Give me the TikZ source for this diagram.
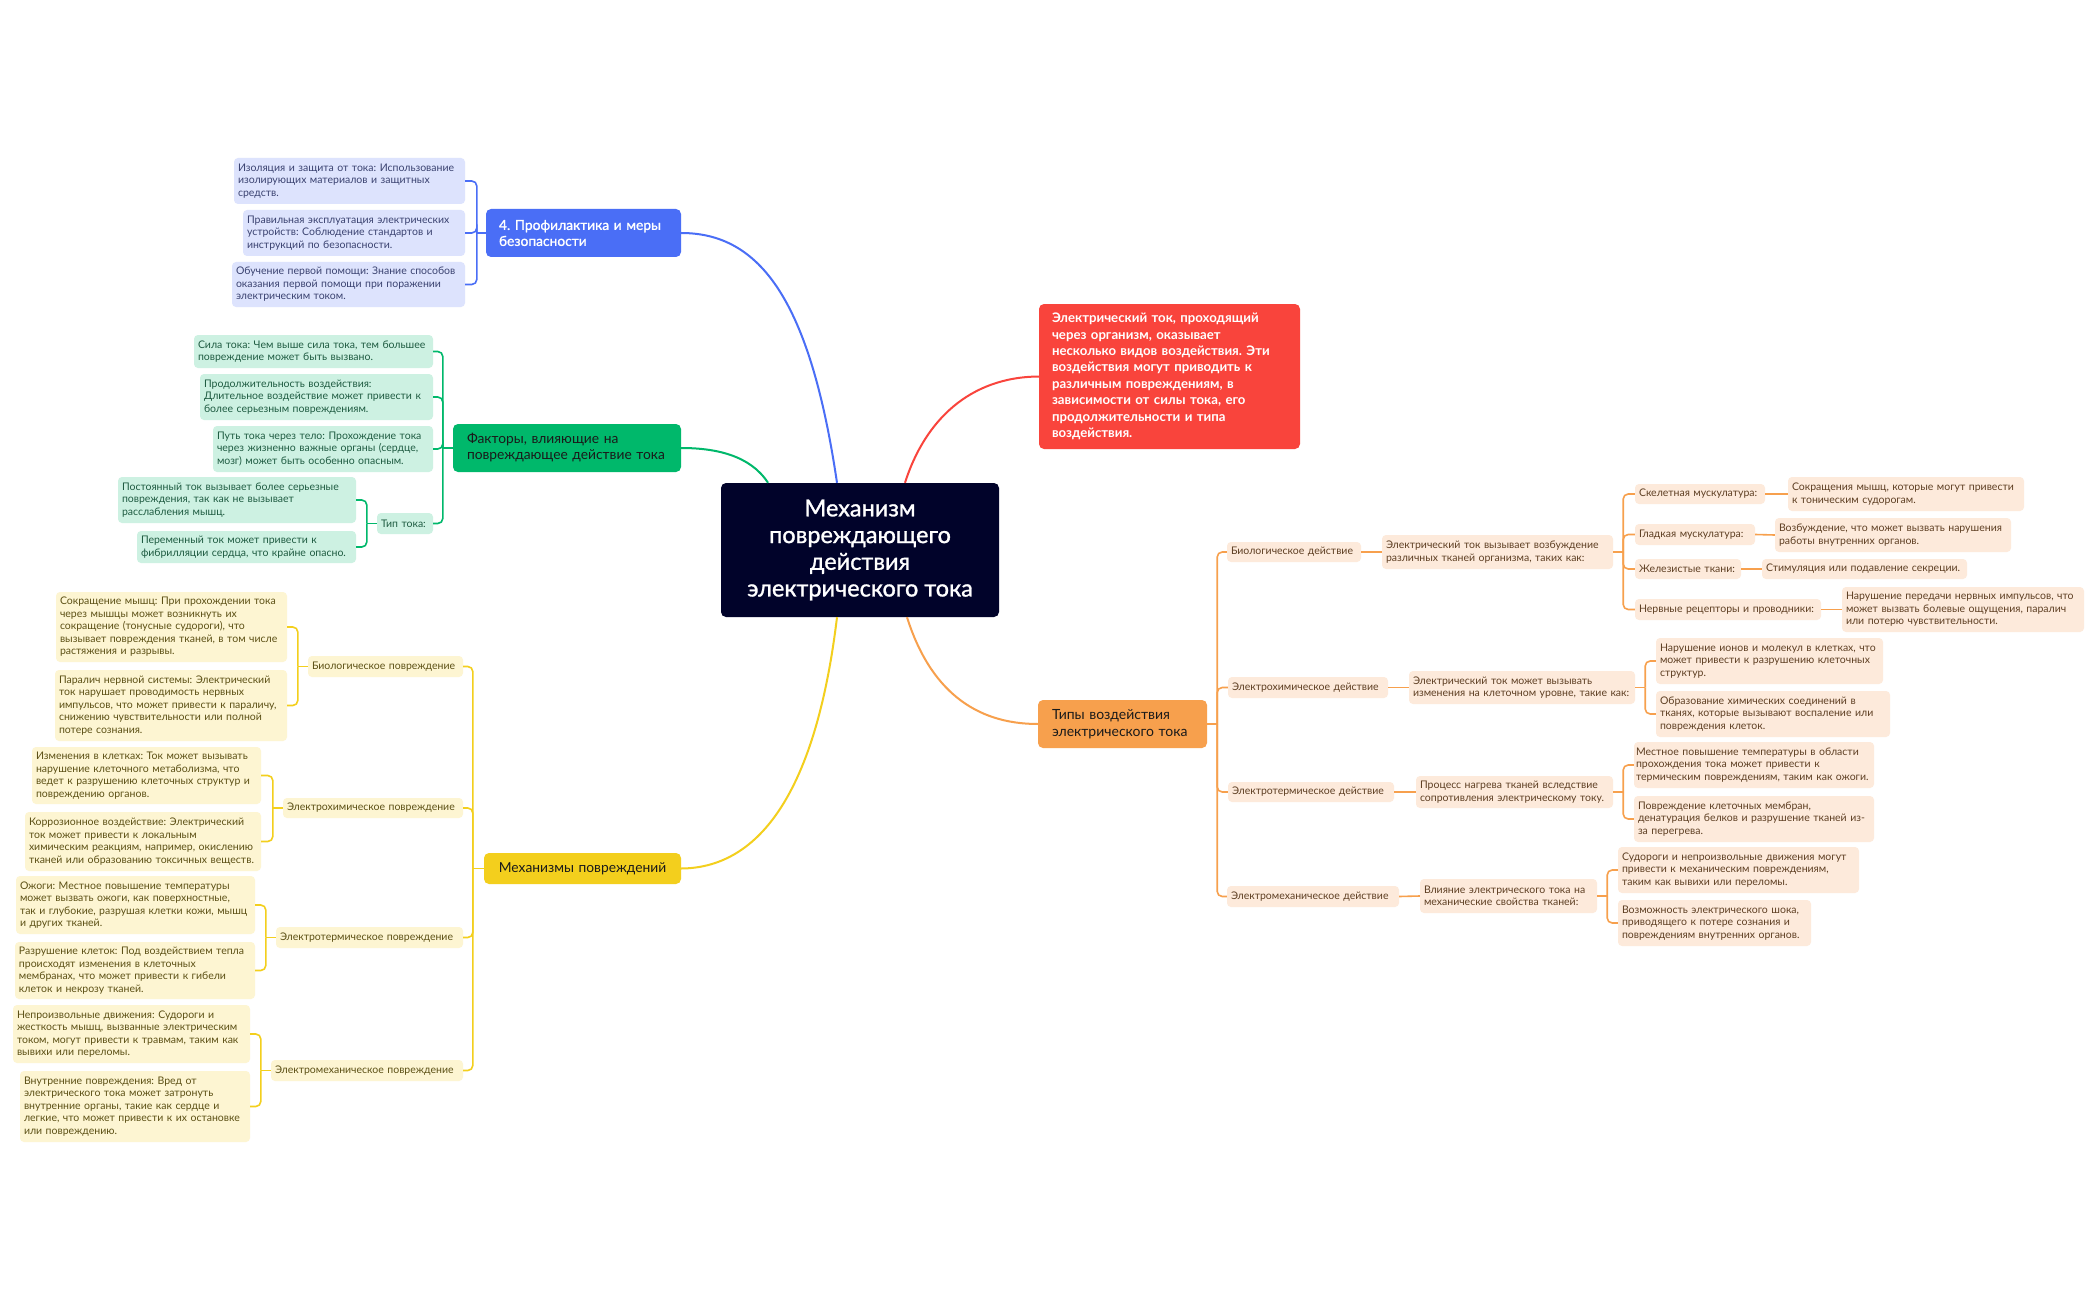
\documentclass[tikz,border=0pt]{standalone}
\usepackage{fontspec}
\setmainfont{Lato}
\newfontfamily\medfont[FakeBold=1.2]{Lato}

\definecolor{centerc}{HTML}{01032A}
\definecolor{bluec}{HTML}{4A6EF6}
\definecolor{bleafc}{HTML}{DDE3FD}
\definecolor{btext}{HTML}{3A4270}
\definecolor{greenc}{HTML}{00B86B}
\definecolor{gleafc}{HTML}{CDF1E2}
\definecolor{gtext}{HTML}{1E5B41}
\definecolor{redc}{HTML}{F9443C}
\definecolor{yellowc}{HTML}{F3CF1D}
\definecolor{yleafc}{HTML}{FDF5D2}
\definecolor{ytext}{HTML}{5C5015}
\definecolor{orangec}{HTML}{F7A04D}
\definecolor{oleafc}{HTML}{FDEADB}
\definecolor{otext}{HTML}{5E3F23}
\definecolor{topictext}{HTML}{1A1A1A}

\newcommand{\leaffont}{\fontsize{10.5}{12.5}\selectfont}
\newcommand{\bx}[8]{%
  \pgfmathsetmacro{\bw}{#6-#4-2*#3}%
  \pgfmathsetmacro{\bh}{#7-#5}%
  \node[#2, inner xsep=#3pt, text width=\bw pt, minimum height=\bh pt] (#1) at ({(#4+#6)/2},{(#5+#7)/2}) {#8};%
}

\tikzset{
  box/.style={rounded corners=4pt, inner ysep=1pt, align=left, font=\leaffont},
  bleaf/.style={box, fill=bleafc, text=btext},
  gleaf/.style={box, fill=gleafc, text=gtext},
  yleaf/.style={box, fill=yleafc, text=ytext},
  oleaf/.style={box, fill=oleafc, text=otext},
  topic/.style={rounded corners=5pt, inner ysep=1pt, align=left, text=topictext, font=\fontsize{13.8}{16}\selectfont},
  bline/.style={draw=bluec, line width=1.6pt, rounded corners=5pt},
  gline/.style={draw=greenc, line width=1.6pt, rounded corners=5pt},
  yline/.style={draw=yellowc, line width=1.6pt, rounded corners=5pt},
  oline/.style={draw=orangec, line width=1.6pt, rounded corners=5pt},
  curve/.style={line width=2pt},
}

\begin{document}
\frenchspacing
\begin{tikzpicture}[x=1pt, y=-1pt]
  \useasboundingbox (0,0) rectangle (2097,1300);
  \fill[white] (0,0) rectangle (2097,1300);

  \node[fill=centerc, text=white, rounded corners=5pt, minimum width=278pt, minimum height=134pt,
    align=center, font=\medfont\fontsize{23.5}{26.7}\selectfont] (c) at (860,550)
    {Механизм\\повреждающего\\действия\\электрического тока};

  % main topics
  \bx{blue}{topic, fill=bluec, text=white, font=\medfont\fontsize{13.8}{16}\selectfont}{13}{486}{209}{681}{257}{4. Профилактика и меры\\безопасности}
  \bx{green}{topic, fill=greenc}{14}{453}{424}{681}{472}{Факторы, влияющие на\\повреждающее действие тока}
  \bx{red}{topic, fill=redc, text=white, font=\fontsize{13.2}{16.4}\selectfont\bfseries}{13}{1039}{304}{1300}{449}{Электрический ток, проходящий\\через организм, оказывает\\несколько видов воздействия. Эти\\воздействия могут приводить к\\различным повреждениям, в\\зависимости от силы тока, его\\продолжительности и типа\\воздействия.}
  \bx{yellow}{topic, fill=yellowc, align=center}{8}{484}{853}{681}{884}{Механизмы повреждений}
  \bx{orange}{topic, fill=orangec, font=\fontsize{14}{16.5}\selectfont}{14}{1038}{700}{1207}{748}{Типы воздействия\\электрического тока}

  \draw[curve, bluec] ([xshift=-23pt]c.north) .. controls (810,300) and (760,233) .. (blue.east);
  \draw[curve, greenc] ([xshift=-92pt]c.north) .. controls (750,455) and (715,448) .. (green.east);
  \draw[curve, redc] ([xshift=45pt]c.north) .. controls (925,420) and (970,377) .. (red.west);
  \draw[curve, yellowc] ([xshift=-23pt]c.south) .. controls (815,800) and (755,868) .. (yellow.east);
  \draw[curve, orangec] ([xshift=47pt]c.south) .. controls (930,690) and (975,724) .. (orange.west);

  % blue branch
  \bx{b-1}{bleaf}{4}{234}{158}{465}{204}{Изоляция и защита от тока: Использование\\изолирующих материалов и защитных\\средств.}
  \bx{b-2}{bleaf}{4}{243}{210}{465}{256}{Правильная эксплуатация электрических\\устройств: Соблюдение стандартов и\\инструкций по безопасности.}
  \bx{b-3}{bleaf}{4}{232}{262}{465}{307}{Обучение первой помощи: Знание способов\\оказания первой помощи при поражении\\электрическим током.}
  \coordinate (bk) at ([xshift=-9pt]blue.west);
  \draw[bline] (bk) -- (blue.west);
  \foreach \i in {1,2,3}
    \draw[bline] (b-\i.east) -| (bk);

  % green branch
  \bx{g-1}{gleaf}{4}{194}{335}{433}{368}{Сила тока: Чем выше сила тока, тем большее\\повреждение может быть вызвано.}
  \bx{g-2}{gleaf}{4}{200}{374}{433}{420}{Продолжительность воздействия:\\Длительное воздействие может привести к\\более серьезным повреждениям.}
  \bx{g-3}{gleaf}{4}{213}{426}{433}{472}{Путь тока через тело: Прохождение тока\\через жизненно важные органы (сердце,\\мозг) может быть особенно опасным.}
  \bx{g-4}{gleaf}{4}{377}{513}{433}{534}{Тип тока:}
  \bx{g-4-1}{gleaf}{4}{118}{477}{356}{523}{Постоянный ток вызывает более серьезные\\повреждения, так как не вызывает\\расслабления мышц.}
  \bx{g-4-2}{gleaf}{4}{137}{531}{356}{563}{Переменный ток может привести к\\фибрилляции сердца, что крайне опасно.}
  \coordinate (gk) at ([xshift=-10pt]green.west);
  \draw[gline] (gk) -- (green.west);
  \foreach \i in {1,...,4}
    \draw[gline] (g-\i.east) -| (gk);
  \coordinate (tk) at ([xshift=-10pt]g-4.west);
  \draw[gline] (tk) -- (g-4.west);
  \foreach \i in {1,2}
    \draw[gline] (g-4-\i.east) -| (tk);

  % yellow branch
  \bx{y-1}{yleaf}{4}{308}{656}{463}{677}{Биологическое повреждение}
  \bx{y-2}{yleaf}{4}{283}{798}{463}{818}{Электрохимическое повреждение}
  \bx{y-3}{yleaf}{4}{276}{927}{463}{948}{Электротермическое повреждение}
  \bx{y-4}{yleaf}{4}{271}{1060}{463}{1081}{Электромеханическое повреждение}
  \bx{y-1-1}{yleaf}{4}{56}{592}{287}{662}{Сокращение мышц: При прохождении тока\\через мышцы может возникнуть их\\сокращение (тонусные судороги), что\\вызывает повреждения тканей, в том числе\\растяжения и разрывы.}
  \bx{y-1-2}{yleaf}{4}{55}{670}{287}{741}{Паралич нервной системы: Электрический\\ток нарушает проводимость нервных\\импульсов, что может привести к параличу,\\снижению чувствительности или полной\\потере сознания.}
  \bx{y-2-1}{yleaf}{4}{32}{747}{261}{804}{Изменения в клетках: Ток может вызывать\\нарушение клеточного метаболизма, что\\ведет к разрушению клеточных структур и\\повреждению органов.}
  \bx{y-2-2}{yleaf}{4}{25}{812}{261}{871}{Коррозионное воздействие: Электрический\\ток может привести к локальным\\химическим реакциям, например, окислению\\тканей или образованию токсичных веществ.}
  \bx{y-3-1}{yleaf}{4}{16}{876}{255}{934}{Ожоги: Местное повышение температуры\\может вызвать ожоги, как поверхностные,\\так и глубокие, разрушая клетки кожи, мышц\\и других тканей.}
  \bx{y-3-2}{yleaf}{4}{15}{942}{255}{999}{Разрушение клеток: Под воздействием тепла\\происходят изменения в клеточных\\мембранах, что может привести к гибели\\клеток и некрозу тканей.}
  \bx{y-4-1}{yleaf}{4}{13}{1005}{250}{1063}{Непроизвольные движения: Судороги и\\жесткость мышц, вызванные электрическим\\током, могут привести к травмам, таким как\\вывихи или переломы.}
  \bx{y-4-2}{yleaf}{4}{20}{1071}{250}{1142}{Внутренние повреждения: Вред от\\электрического тока может затронуть\\внутренние органы, такие как сердце и\\легкие, что может привести к их остановке\\или повреждению.}
  \coordinate (yk) at ([xshift=-11pt]yellow.west);
  \draw[yline] (yk) -- (yellow.west);
  \foreach \i in {1,...,4} {
    \draw[yline] (y-\i.east) -| (yk);
    \coordinate (yk-\i) at ([xshift=-10pt]y-\i.west);
    \draw[yline] (yk-\i) -- (y-\i.west);
    \draw[yline] (y-\i-1.east) -| (yk-\i);
    \draw[yline] (y-\i-2.east) -| (yk-\i);
  }

  % orange branch
  \bx{t-1}{oleaf}{4}{1227}{542}{1361}{562}{Биологическое действие}
  \bx{t-2}{oleaf}{4}{1228}{677}{1388}{698}{Электрохимическое действие}
  \bx{t-3}{oleaf}{4}{1228}{782}{1394}{802}{Электротермическое действие}
  \bx{t-4}{oleaf}{4}{1227}{886}{1399}{907}{Электромеханическое действие}
  \bx{e-1}{oleaf}{4}{1382}{535}{1613}{569}{Электрический ток вызывает возбуждение\\различных тканей организма, таких как:}
  \bx{e-2}{oleaf}{4}{1409}{671}{1635}{704}{Электрический ток может вызывать\\изменения на клеточном уровне, такие как:}
  \bx{e-3}{oleaf}{4}{1416}{776}{1613}{808}{Процесс нагрева тканей вследствие\\сопротивления электрическому току.}
  \bx{e-4}{oleaf}{4}{1420}{879}{1597}{913}{Влияние электрического тока на\\механические свойства тканей:}
  \bx{m-1}{oleaf}{4}{1635}{484}{1765}{504}{Скелетная мускулатура:}
  \bx{m-2}{oleaf}{4}{1635}{524}{1755}{545}{Гладкая мускулатура:}
  \bx{m-3}{oleaf}{4}{1635}{559}{1741}{579}{Железистые ткани:}
  \bx{m-4}{oleaf}{4}{1635}{599}{1821}{620}{Нервные рецепторы и проводники:}
  \bx{r-1}{oleaf}{4}{1788}{477}{2024}{511}{Сокращения мышц, которые могут привести\\к тоническим судорогам.}
  \bx{r-2}{oleaf}{4}{1775}{518}{2011}{552}{Возбуждение, что может вызвать нарушения\\работы внутренних органов.}
  \bx{r-3}{oleaf}{4}{1762}{559}{1967}{579}{Стимуляция или подавление секреции.}
  \bx{r-4}{oleaf}{4}{1842}{587}{2084}{632}{Нарушение передачи нервных импульсов, что\\может вызвать болевые ощущения, паралич\\или потерю чувствительности.}
  \bx{c-2-1}{oleaf}{4}{1656}{638}{1883}{684}{Нарушение ионов и молекул в клетках, что\\может привести к разрушению клеточных\\структур.}
  \bx{c-2-2}{oleaf}{4}{1656}{691}{1890}{737}{Образование химических соединений в\\тканях, которые вызывают воспаление или\\повреждения клеток.}
  \bx{c-3-1}{oleaf}{2}{1634}{742}{1874}{788}{Местное повышение температуры в области\\прохождения тока может привести к\\термическим повреждениям, таким как ожоги.}
  \bx{c-3-2}{oleaf}{4}{1634}{796}{1874}{842}{Повреждение клеточных мембран,\\денатурация белков и разрушение тканей из-\\за перегрева.}
  \bx{c-4-1}{oleaf}{4}{1618}{847}{1859}{893}{Судороги и непроизвольные движения могут\\привести к механическим повреждениям,\\таким как вывихи или переломы.}
  \bx{c-4-2}{oleaf}{4}{1618}{900}{1811}{946}{Возможность электрического шока,\\приводящего к потере сознания и\\повреждениям внутренних органов.}
  \coordinate (ok) at ([xshift=10pt]orange.east);
  \draw[oline] (orange.east) -- (ok);
  \foreach \i in {1,...,4} {
    \draw[oline] (t-\i.west) -| (ok);
    \draw[oline] (t-\i.east) -- (e-\i.west);
    \coordinate (ek-\i) at ([xshift=10pt]e-\i.east);
    \draw[oline] (e-\i.east) -- (ek-\i);
  }
  \foreach \i in {1,...,4} {
    \draw[oline] (m-\i.west) -| (ek-1);
    \draw[oline] (m-\i.east) -- (r-\i.west);
  }
  \foreach \i/\j in {2/1, 2/2, 3/1, 3/2, 4/1, 4/2}
    \draw[oline] (c-\i-\j.west) -| (ek-\i);

\end{tikzpicture}
\end{document}
